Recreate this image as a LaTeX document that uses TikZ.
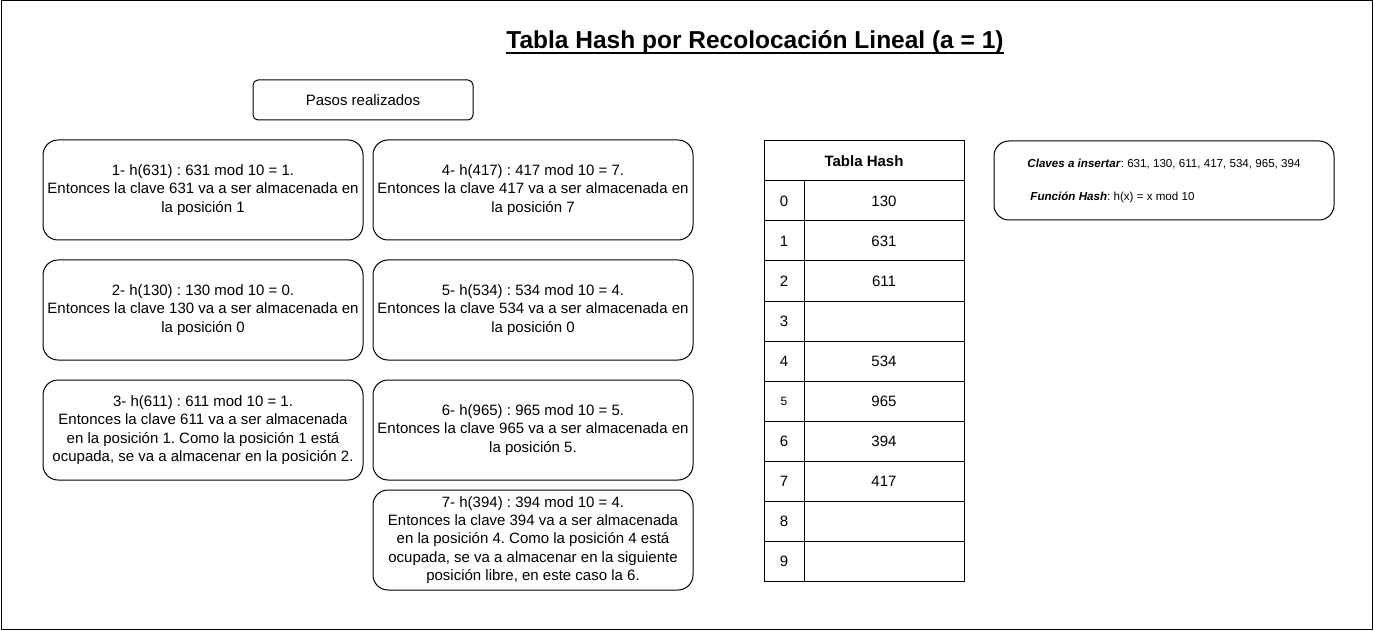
\documentclass[tikz,border=0pt]{standalone}
\usepackage{fontspec}
\setmainfont{Liberation Sans}
\usetikzlibrary{positioning}
\frenchspacing

\begin{document}
\begin{tikzpicture}[
  x=1pt, y=1pt, line width=1pt,
  node distance = 19pt and 9pt,
  paso/.style = {rectangle, draw, rounded corners=15pt, minimum width=320pt, minimum height=100pt,
                 inner sep=0pt, align=center, font=\fontsize{15}{18.3}\selectfont},
  celda/.style = {rectangle, draw, minimum height=40pt, inner sep=0pt, font=\fontsize{15}{18}\selectfont},
]
  \useasboundingbox (0,0) rectangle (1374,-631);
  \draw (1,-1) rectangle (1372.5,-629.5);

  \node[anchor=base, inner sep=0pt, font=\fontsize{24.5}{29}\selectfont\bfseries] (titulo) at (755,-48.5)
    {Tabla Hash por Recolocación Lineal (a = 1)};
  \draw[line width=2pt] ([yshift=-4.5pt]titulo.base west) -- ([yshift=-4.5pt]titulo.base east);
  \node[draw, rounded corners=5pt, minimum width=220pt, minimum height=40pt, font=\fontsize{15}{18}\selectfont]
    (pasos) at (363,-100) {Pasos realizados};

  % pasos de la insercion
  \node[paso] (p1) at (203,-190) {1- h(631) : 631 mod 10 = 1.\\Entonces la clave 631 va a ser almacenada en\\la posición 1};
  \node[paso, below=of p1] (p2) {2- h(130) : 130 mod 10 = 0.\\Entonces la clave 130 va a ser almacenada en\\la posición 0};
  \node[paso, below=of p2] (p3) {3- h(611) : 611 mod 10 = 1.\\ Entonces la clave 611 va a ser almacenada\\en la posición 1. Como la posición 1 está\\ocupada, se va a almacenar en la posición 2.};
  \node[paso, right=of p1] (p4) {4- h(417) : 417 mod 10 = 7.\\Entonces la clave 417 va a ser almacenada en\\la posición 7};
  \node[paso, right=of p2] (p5) {5- h(534) : 534 mod 10 = 4.\\Entonces la clave 534 va a ser almacenada en\\la posición 0};
  \node[paso, right=of p3] (p6) {6- h(965) : 965 mod 10 = 5.\\Entonces la clave 965 va a ser almacenada en\\la posición 5.};
  \node[paso, below=9pt of p6] (p7) {7- h(394) : 394 mod 10 = 4.\\Entonces la clave 394 va a ser almacenada\\en la posición 4. Como la posición 4 está\\ocupada, se va a almacenar en la siguiente\\posición libre, en este caso la 6.};

  % tabla hash
  \node[celda, minimum width=200pt, font=\fontsize{15}{18}\selectfont\bfseries] (tabla) at (864,-161) {Tabla Hash};
  \foreach \i/\v in {0/130, 1/631, 2/611, 3/{}, 4/534, 5/965, 6/394, 7/417, 8/{}, 9/{}} {
    \node[celda, minimum width=40pt] (idx\i) at (784,-201-40*\i) {\ifnum\i=5 \fontsize{12}{14}\selectfont\fi\i};
    \node[celda, minimum width=160pt] (val\i) at (884,-201-40*\i) {\v};
  }

  \node[draw, rounded corners=15pt, minimum width=340pt, minimum height=79pt, align=left,
        font=\fontsize{11.6}{14}\selectfont] (claves) at (1164,-180.5)
    {\textit{\textbf{Claves a insertar}}: 631, 130, 611, 417, 534, 965, 394\\[19pt]
     \hspace{3pt}\textit{\textbf{Función Hash}}: h(x) = x mod 10};
\end{tikzpicture}
\end{document}
